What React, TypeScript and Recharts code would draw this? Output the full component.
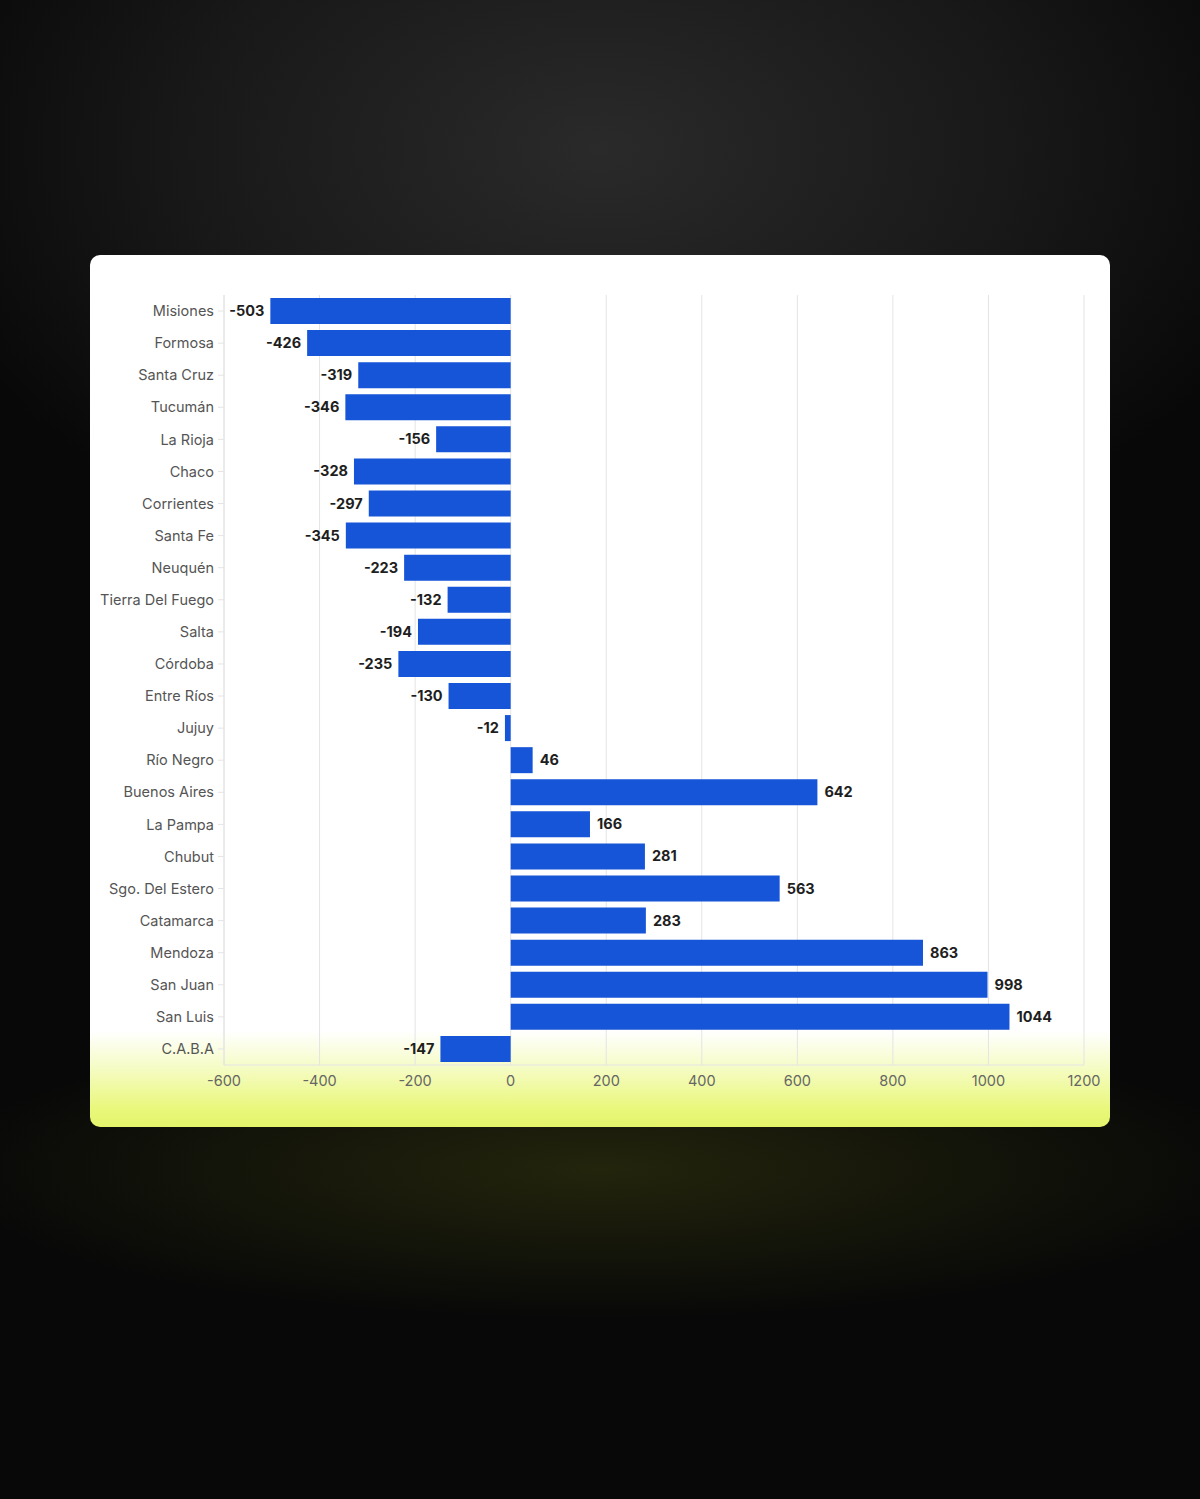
import React from "react";
import {
  BarChart,
  Bar,
  XAxis,
  YAxis,
  CartesianGrid,
  LabelList,
} from "recharts";

const provinces = [
  "Misiones",
  "Formosa",
  "Santa Cruz",
  "Tucumán",
  "La Rioja",
  "Chaco",
  "Corrientes",
  "Santa Fe",
  "Neuquén",
  "Tierra Del Fuego",
  "Salta",
  "Córdoba",
  "Entre Ríos",
  "Jujuy",
  "Río Negro",
  "Buenos Aires",
  "La Pampa",
  "Chubut",
  "Sgo. Del Estero",
  "Catamarca",
  "Mendoza",
  "San Juan",
  "San Luis",
  "C.A.B.A",
];

const values = [
  -503, -426, -319, -346, -156, -328, -297, -345, -223, -132, -194, -235, -130,
  -12, 46, 642, 166, 281, 563, 283, 863, 998, 1044, -147,
];

const xTicks = [-600, -400, -200, 0, 200, 400, 600, 800, 1000, 1200];

const data = provinces.map((name, i) => ({ name, value: values[i] }));

const BAR_COLOR = "#1654d8";
const FONT = "Inter, 'Open Sans', 'Noto Sans', sans-serif";

const ValueLabel = (props: any) => {
  const { x, y, width, height, value } = props;
  const left = Math.min(x, x + width);
  const right = Math.max(x, x + width);
  const neg = value < 0;
  return (
    <text
      x={neg ? left - 6 : right + 7}
      y={y + height / 2}
      dy="0.35em"
      textAnchor={neg ? "end" : "start"}
      fontFamily={FONT}
      fontSize={14.5}
      fontWeight={700}
      fill="#1e1e1e"
    >
      {value}
    </text>
  );
};

export default function App() {
  return (
    <div
      style={{
        position: "absolute",
        left: 0,
        top: 0,
        width: 1200,
        height: 1499,
        overflow: "hidden",
        background:
          "radial-gradient(ellipse 55% 10% at 50% 78%, rgba(85,90,20,0.35), rgba(0,0,0,0) 100%), radial-gradient(ellipse 70% 35% at 50% 10%, #2a2a2a 0%, #181818 50%, #080808 85%), #030303",
      }}
    >
      <div
        style={{
          position: "absolute",
          left: 90,
          top: 255,
          width: 1020,
          height: 872,
          borderRadius: 10,
          overflow: "hidden",
          background:
            "linear-gradient(to bottom, #ffffff 0%, #ffffff 89%, #f6fcc8 93%, #e9f77a 98%, #e4f46a 100%)",
        }}
      >
        <BarChart
          width={1020}
          height={872}
          data={data}
          layout="vertical"
          margin={{ top: 40, right: 26, bottom: 32, left: 0 }}
          barCategoryGap={3}
        >
          <CartesianGrid horizontal={false} stroke="#e4e4e4" />
          <XAxis
            type="number"
            domain={[-600, 1200]}
            ticks={xTicks}
            height={30}
            axisLine={{ stroke: "#e4e4e4" }}
            tickLine={false}
            tickMargin={5}
            tick={{ fill: "#666", fontSize: 14.5, fontFamily: FONT }}
            interval={0}
          />
          <YAxis
            type="category"
            dataKey="name"
            width={134}
            axisLine={{ stroke: "#e4e4e4" }}
            tickLine={{ stroke: "#e4e4e4" }}
            tickSize={6}
            tickMargin={4}
            tick={{ fill: "#555", fontSize: 14.5, fontFamily: FONT }}
            interval={0}
          />
          <Bar dataKey="value" fill={BAR_COLOR} isAnimationActive={false}>
            <LabelList dataKey="value" content={<ValueLabel />} />
          </Bar>
        </BarChart>
      </div>
    </div>
  );
}
